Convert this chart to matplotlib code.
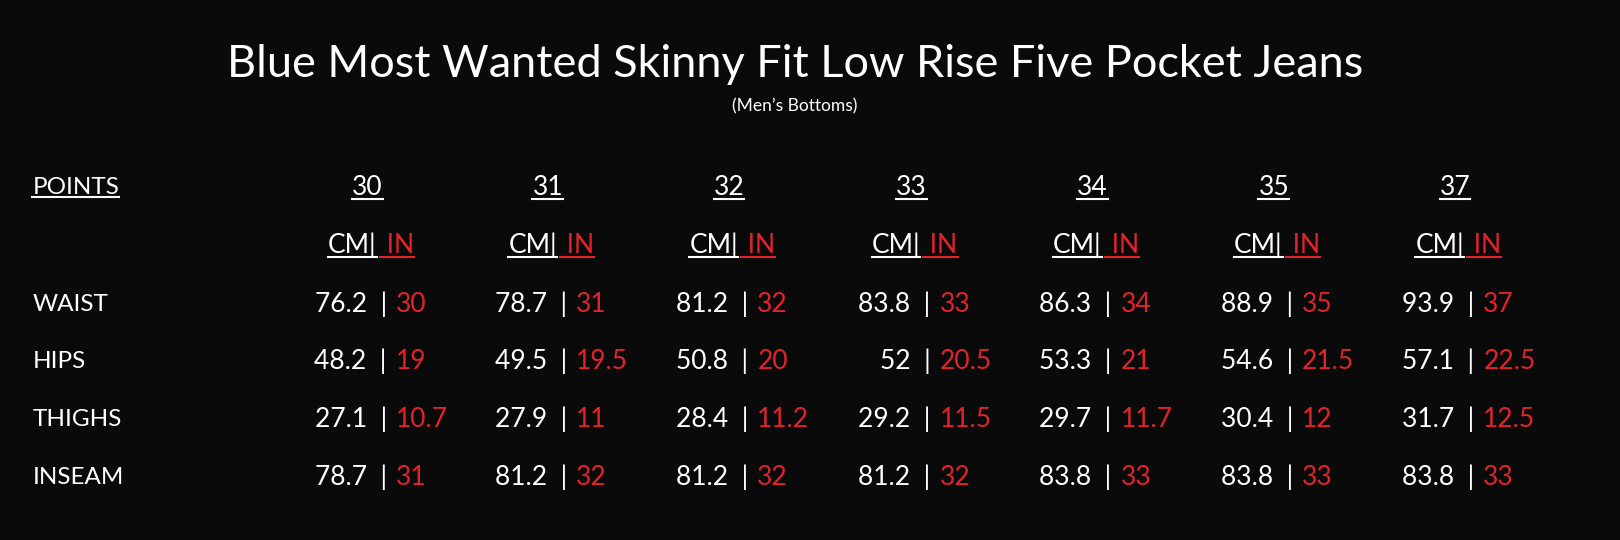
import matplotlib
matplotlib.use("Agg")
import matplotlib.pyplot as plt
from matplotlib.lines import Line2D

title = "Blue Most Wanted Skinny Fit Low Rise Five Pocket Jeans"
subtitle = "(Men\u2019s Bottoms)"
sizes = ["30", "31", "32", "33", "34", "35", "37"]
points = ["WAIST", "HIPS", "THIGHS", "INSEAM"]
cm = [["76.2", "78.7", "81.2", "83.8", "86.3", "88.9", "93.9"],
      ["48.2", "49.5", "50.8", "52", "53.3", "54.6", "57.1"],
      ["27.1", "27.9", "28.4", "29.2", "29.7", "30.4", "31.7"],
      ["78.7", "81.2", "81.2", "81.2", "83.8", "83.8", "83.8"]]
inch = [["30", "31", "32", "33", "34", "35", "37"],
        ["19", "19.5", "20", "20.5", "21", "21.5", "22.5"],
        ["10.7", "11", "11.2", "11.5", "11.7", "12", "12.5"],
        ["31", "32", "32", "32", "33", "33", "33"]]

W, H = 1620, 540
SX, SY = W / 1600, H / 523
BG, WHITE, RED = "#0a0a0a", "white", "#e3232b"
FONT = ["Lato", "DejaVu Sans"]

fig = plt.figure(figsize=(W / 100, H / 100), dpi=100, facecolor=BG)

def T(x, y, s, size=19, color=WHITE, ha="left", **kw):
    return fig.text(x * SX / W, 1 - y * SY / H, s, fontsize=size, color=color,
                    ha=ha, va="center", family=FONT, **kw)

underlined = []
T(785, 62, title, size=32.5, ha="center")
T(785, 103, subtitle, size=12.5, ha="center")
underlined.append(T(32, 182, "POINTS", size=17.5))

cols = [363, 541, 720, 900, 1079, 1258, 1437]
rows = [295, 350, 406, 462]
for c, s in zip(cols, sizes):
    underlined.append(T(c, 182, s, ha="center"))
    underlined.append(T(c + 9, 238, "CM|", ha="right"))
    underlined.append(T(c + 12, 238, " IN", color=RED, ha="left"))
for r, p in zip(rows, points):
    T(32, r, p, size=17.5)
for i, r in enumerate(rows):
    for j, c in enumerate(cols):
        T(c + 19, r, cm[i][j] + "  |", ha="right")
        T(c + 28, r, inch[i][j], color=RED, ha="left")

fig.canvas.draw()
rend = fig.canvas.get_renderer()
for t in underlined:
    bb = t.get_window_extent(rend)
    y = (bb.y0 + 1) / H
    fig.add_artist(Line2D([bb.x0 / W, bb.x1 / W], [y, y], color=t.get_color(),
                          lw=1.5, transform=fig.transFigure))

fig.savefig("out.png", dpi=100, facecolor=BG)
